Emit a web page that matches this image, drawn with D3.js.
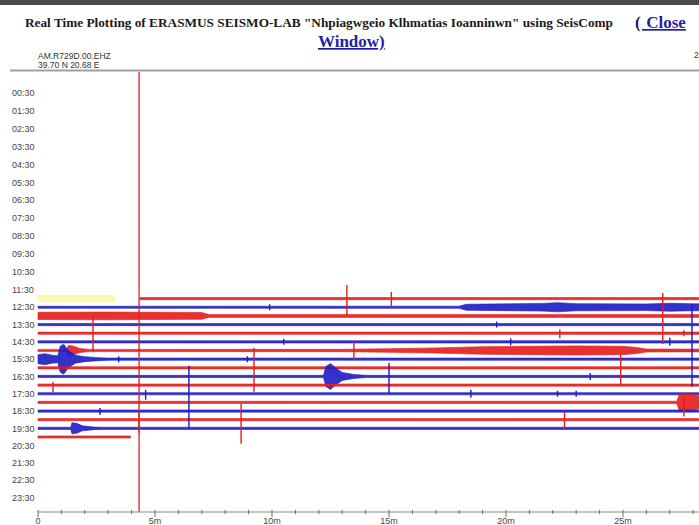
<!DOCTYPE html>
<html>
<head>
<meta charset="utf-8">
<script src="https://cdn.jsdelivr.net/npm/d3@7"></script>
<style>
  body { margin: 0; background: #fff; }
  svg { display: block; }
</style>
</head>
<body>
<script>
(function(){

//row labels on the left (one per hour, at the half hour)
var hourLabels = ["00:30","01:30","02:30","03:30","04:30","05:30","06:30","07:30","08:30","09:30","10:30","11:30",
                  "12:30","13:30","14:30","15:30","16:30","17:30","18:30","19:30","20:30","21:30","22:30","23:30"];

//minute axis (30m lies past the right edge of the window)
var minuteTicks = [0, 5, 10, 15, 20, 25];
var minuteTickLabels = ["0", "5m", "10m", "15m", "20m", "25m"];

//traces drawn (30 minute lines)
var traceStarts = ["12:00","12:30","13:00","13:30","14:00","14:30","15:00","15:30","16:00",
                   "16:30","17:00","17:30","18:00","18:30","19:00","19:30","20:00"];
var traceFrom = [4.35, 0, 0, 0, 0, 0, 0, 0, 0, 0, 0, 0, 0, 0, 0, 0, 0];
var traceTo   = [30, 30, 30, 30, 30, 30, 30, 30, 30, 30, 30, 30, 30, 30, 30, 30, 3.95];

//envelope of each trace, [minute, counts]
var traceEnvelopes = [
  [[0,110],[30,110]],
  [[0,100],[18,110],[18.3,300],[20,340],[21.5,380],[22.2,460],[23,360],[26,330],[27,400],[28,350],[30,350]],
  [[0,360],[3,390],[5,360],[7,340],[7.3,150],[30,150]],
  [[0,110],[30,110]],
  [[0,110],[30,120]],
  [[0,110],[30,120]],
  [[0,110],[1.2,110],[1.3,500],[1.5,450],[1.8,200],[2.2,110],[13,120],[15,180],[17,260],[19,380],[21,420],[23,460],[25,420],[25.6,300],[26,150],[30,130]],
  [[0,450],[0.3,550],[0.6,400],[0.85,350],[0.95,1300],[1.1,1500],[1.3,850],[1.6,400],[2.0,250],[2.6,150],[3,110],[30,110]],
  [[0,110],[30,110]],
  [[0,110],[12.2,110],[12.3,1000],[12.5,1300],[12.7,900],[13.0,400],[13.5,200],[14,110],[30,110]],
  [[0,110],[30,110]],
  [[0,110],[30,110]],
  [[0,110],[27.3,120],[27.4,800],[27.8,900],[28.5,500],[29.5,200],[30,150]],
  [[0,110],[30,110]],
  [[0,110],[30,110]],
  [[0,110],[1.4,110],[1.45,550],[1.65,500],[1.9,250],[2.4,130],[2.8,110],[30,110]],
  [[0,110],[3.95,110]]
];

//spikes: [trace, minute, counts up, counts down]
var spikeTrace = ["12:00","12:00","13:00","14:00","14:30","16:00","15:00","16:30","17:30","17:00","17:30","18:30","19:00","19:00","16:00","14:00","19:00",
                  "12:30","13:30","14:30","14:30","14:30","14:00","15:30","15:30","16:30","17:30","17:30","17:30","18:00"];
var spikeMinute = [13.2, 15.1, 26.7, 2.35, 27.95, 9.23, 13.5, 15.0, 6.45, 0.64, 4.6, 2.65, 8.68, 22.5, 24.9, 22.3, 4.32,
                   9.9, 19.6, 10.5, 20.2, 27.0, 27.6, 3.45, 8.95, 23.6, 18.5, 22.2, 23.0, 27.6];
var spikeUp   = [1360, 660, 2300, 1800, 3700, 2000, 850, 1350, 2800, 300, 400, 300, 1600, 800, 1300, 400, 800,
                 300, 300, 300, 350, 400, 300, 300, 300, 350, 400, 300, 300, 500];
var spikeDown = [1640, 740, 2800, 1900, 4500, 2400, 950, 1650, 3400, 700, 600, 400, 2400, 900, 1700, 500, 1300,
                 300, 300, 300, 350, 400, 300, 300, 300, 350, 400, 300, 300, 1400];

//marker and highlight
var markerMinute = 4.32;
var highlightFrom = 0, highlightTo = 3.3, highlightTrace = "12:00";

var width = 699, height = 525;

var svg = d3.select("body")
    .append("svg")
    .attr("width", width)
    .attr("height", height);

//header
svg.append("rect")
    .attr("x", 0).attr("y", 0)
    .attr("width", width).attr("height", 5)
    .style("fill", "#4a4a4a");

svg.append("text")
    .attr("x", 25).attr("y", 27)
    .attr("textLength", 588)
    .attr("lengthAdjust", "spacingAndGlyphs")
    .style("font-family", "'Liberation Serif', 'Times New Roman', serif")
    .style("font-weight", "bold")
    .style("font-size", "13.5px")
    .style("fill", "#1a1a1a")
    .text("Real Time Plotting of ERASMUS SEISMO-LAB \"Nhpiagwgeio Klhmatias Ioanninwn\" using SeisComp");

var link = svg.append("g")
    .style("font-family", "'Liberation Serif', 'Times New Roman', serif")
    .style("font-weight", "bold")
    .style("font-size", "17px");

link.append("text")
    .attr("x", 635).attr("y", 28)
    .style("fill", "#1a1a5a")
    .text("(");
link.append("text")
    .attr("x", 642).attr("y", 28)
    .style("fill", "#1f1fa8")
    .style("text-decoration", "underline")
    .text("\u00a0Close");
link.append("text")
    .attr("x", 318).attr("y", 47)
    .style("fill", "#1f1fa8")
    .style("text-decoration", "underline")
    .text("Window)");

var info = svg.append("g")
    .style("font-family", "'Liberation Sans', Arial, sans-serif")
    .style("font-size", "8.5px")
    .style("fill", "#333");
info.append("text").attr("x", 38).attr("y", 59).text("AM.R729D.00.EHZ");
info.append("text").attr("x", 38).attr("y", 68).text("39.70 N 20.68 E");
info.append("text").attr("x", 694).attr("y", 58).text("2");

svg.append("line")
    .attr("x1", 10).attr("x2", width)
    .attr("y1", 70.5).attr("y2", 70.5)
    .style("stroke", "#a0a0a0")
    .style("stroke-width", 2);

//scales
var x = d3.scaleLinear().domain([0, 30]).range([38, 740]);
var y = d3.scaleLinear().domain([0, 12, 24]).range([84.1, 298.6, 506.2]);
var amp = d3.scaleLinear().domain([0, 100]).range([0, 1]);

function hours(s){
  var p = s.split(":");
  return +p[0] + (+p[1]) / 60;
}

//row labels
svg.append("g")
    .selectAll("text")
    .data(hourLabels)
    .enter()
    .append("text")
    .attr("x", 12)
    .attr("y", function(d){ return y(hours(d)); })
    .attr("dy", "0.35em")
    .style("font-family", "'Liberation Sans', Arial, sans-serif")
    .style("font-size", "9px")
    .style("fill", "#444")
    .text(function(d){ return d; });

//highlight box
svg.append("rect")
    .attr("x", x(highlightFrom))
    .attr("width", x(highlightTo) - x(highlightFrom))
    .attr("y", y(hours(highlightTrace)) - 3.5)
    .attr("height", 7)
    .style("fill", "#fbfbb0");

//traces
var traces = traceStarts.map(function(t, i){
  var env = traceEnvelopes[i].filter(function(p){ return p[0] >= traceFrom[i] && p[0] <= traceTo[i]; });
  return {start: t, row: hours(t), color: i % 2 == 0 ? "#e41c1c" : "#1c1cc4", env: env, from: traceFrom[i], to: traceTo[i]};
});

//make sure each envelope covers the full trace span
traces.forEach(function(d, i){
  var src = traceEnvelopes[i];
  if (d.env.length == 0 || d.env[0][0] > d.from) d.env.unshift([d.from, src[0][1]]);
  if (d.env[d.env.length - 1][0] < d.to) d.env.push([d.to, src[src.length - 1][1]]);
});

var area = d3.area()
    .x(function(p){ return x(p[0]); });

svg.append("g")
    .selectAll("path")
    .data(traces)
    .enter()
    .append("path")
    .attr("d", function(d){
      var r = y(d.row);
      return area
        .y0(function(p){ return r + amp(p[1]); })
        .y1(function(p){ return r - amp(p[1]); })(d.env);
    })
    .style("fill", function(d){ return d.color; })
    .style("fill-opacity", 0.9)
    .style("stroke", function(d){ return d.color; })
    .style("stroke-width", 0.6);

//spikes
var spikes = spikeTrace.map(function(t, i){
  return {row: hours(t), minute: spikeMinute[i], up: spikeUp[i], down: spikeDown[i],
          color: traceStarts.indexOf(t) % 2 == 0 ? "#e41c1c" : "#1c1cc4"};
});

svg.append("g")
    .selectAll("line")
    .data(spikes)
    .enter()
    .append("line")
    .attr("x1", function(d){ return x(d.minute); })
    .attr("x2", function(d){ return x(d.minute); })
    .attr("y1", function(d){ return y(d.row) - amp(d.up); })
    .attr("y2", function(d){ return y(d.row) + amp(d.down); })
    .style("stroke", function(d){ return d.color; })
    .style("stroke-width", 1.4);

//marker line
svg.append("line")
    .attr("x1", x(markerMinute)).attr("x2", x(markerMinute))
    .attr("y1", 72).attr("y2", 512)
    .style("stroke", "#e41c1c")
    .style("stroke-width", 1.3);

//minute axis
var axisY = 512;
var axis = svg.append("g");
axis.append("line")
    .attr("x1", x(0)).attr("x2", x(30))
    .attr("y1", axisY).attr("y2", axisY)
    .style("stroke", "#8a8a8a")
    .style("stroke-width", 1.2);

axis.selectAll(".minor")
    .data(d3.range(0, 31))
    .enter()
    .append("line")
    .attr("class", "minor")
    .attr("x1", function(d){ return x(d); })
    .attr("x2", function(d){ return x(d); })
    .attr("y1", axisY - 2)
    .attr("y2", function(d){ return minuteTicks.indexOf(d) >= 0 ? axisY + 5 : axisY + 2; })
    .style("stroke", "#6a6a6a")
    .style("stroke-width", 1);

axis.selectAll(".lbl")
    .data(minuteTicks)
    .enter()
    .append("text")
    .attr("class", "lbl")
    .attr("x", function(d){ return x(d); })
    .attr("y", 524)
    .attr("text-anchor", "middle")
    .style("font-family", "'Liberation Sans', Arial, sans-serif")
    .style("font-size", "9px")
    .style("fill", "#444")
    .text(function(d, i){ return minuteTickLabels[i]; });

})();
</script>
</body>
</html>
